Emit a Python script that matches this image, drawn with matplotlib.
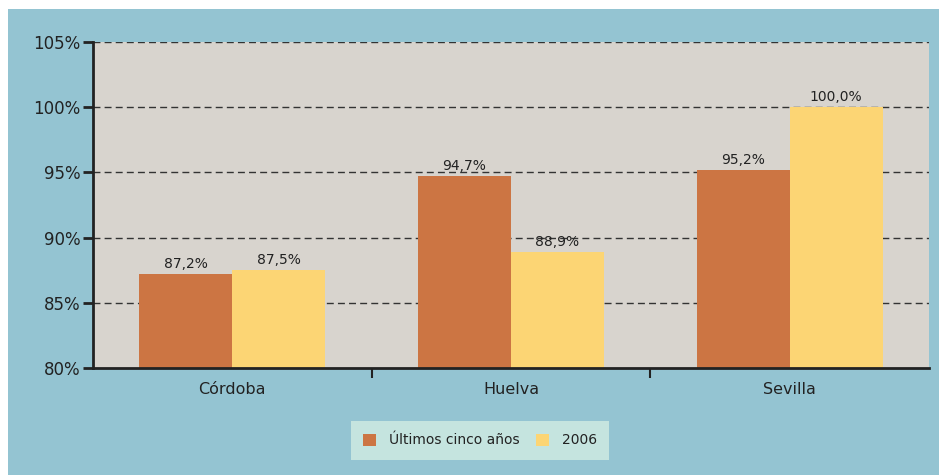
import matplotlib
matplotlib.use("Agg")
import matplotlib.pyplot as plt
from matplotlib.patches import Rectangle
import numpy as np

plt.rcParams["font.family"] = ["DejaVu Sans"]

categories = ["Córdoba", "Huelva", "Sevilla"]
series_names = ["Últimos cinco años", "2006"]
ultimos = [87.2, 94.7, 95.2]
anio2006 = [87.5, 88.9, 100.0]
yticks = [80, 85, 90, 95, 100, 105]

W, H = 939, 475
fig = plt.figure(figsize=(W/100, H/100), dpi=100)
fig.patch.set_facecolor("white")
fig.patches.append(Rectangle((8/W, 0), 1 - 8/W, (H-9)/H, transform=fig.transFigure,
                             facecolor="#94c4d2", edgecolor="none", zorder=-10))

L, R, T, B = 93, 929, 42, 368
ax = fig.add_axes([L/W, 1 - B/H, (R-L)/W, (B-T)/H])
ax.set_facecolor("#d8d4ce")

x = np.arange(len(categories))
bw = 1/3
c1, c2 = "#cc7543", "#fcd574"
b1 = ax.bar(x - bw/2, [v - 80 for v in ultimos], bw, bottom=80, color=c1, zorder=3, label=series_names[0])
b2 = ax.bar(x + bw/2, [v - 80 for v in anio2006], bw, bottom=80, color=c2, zorder=3, label=series_names[1])

def fmt(v):
    return f"{v:.1f}%".replace(".", ",")

for xs, vals in ((x - bw/2, ultimos), (x + bw/2, anio2006)):
    for xi, v in zip(xs, vals):
        ax.text(xi, v + 0.25, fmt(v), ha="center", va="bottom", fontsize=10, color="#222222", zorder=4)

ax.set_xlim(-0.5, 2.5)
ax.set_ylim(80, 105)
ax.set_yticks(yticks)
ax.set_yticklabels([f"{t}%" for t in yticks], fontsize=12, color="#222222")
for t in yticks[1:]:
    ax.axhline(t, color="#333333", lw=1, ls=(0, (5, 3)), zorder=2)

ax.set_xticks(x)
ax.set_xticklabels(categories, fontsize=11.5, color="#222222")
ax.tick_params(axis="x", length=0, pad=10)
ax.set_xticks([0.5, 1.5], minor=True)
ax.tick_params(axis="x", which="minor", length=7, width=1.5, color="#222222", direction="out")
ax.tick_params(axis="y", length=7, width=2, color="#222222", pad=2)

for s in ("top", "right"):
    ax.spines[s].set_visible(False)
for s in ("left", "bottom"):
    ax.spines[s].set_linewidth(2)
    ax.spines[s].set_color("#222222")
    ax.spines[s].set_zorder(5)

leg = fig.legend(handles=[b1, b2], labels=series_names, loc="center",
                 bbox_to_anchor=(480/W, 1 - 440.5/H), ncol=2, frameon=True,
                 prop={"family": "DejaVu Sans", "size": 10},
                 handlelength=0.95, handleheight=0.95, handletextpad=0.9,
                 columnspacing=1.2, borderpad=0.9, borderaxespad=0, fancybox=False)
leg.get_frame().set_facecolor("#c5e4df")
leg.get_frame().set_edgecolor("none")
leg.get_frame().set_alpha(1)
for t in leg.get_texts():
    t.set_color("#222222")

fig.savefig("out.png", dpi=100, facecolor=fig.get_facecolor())
